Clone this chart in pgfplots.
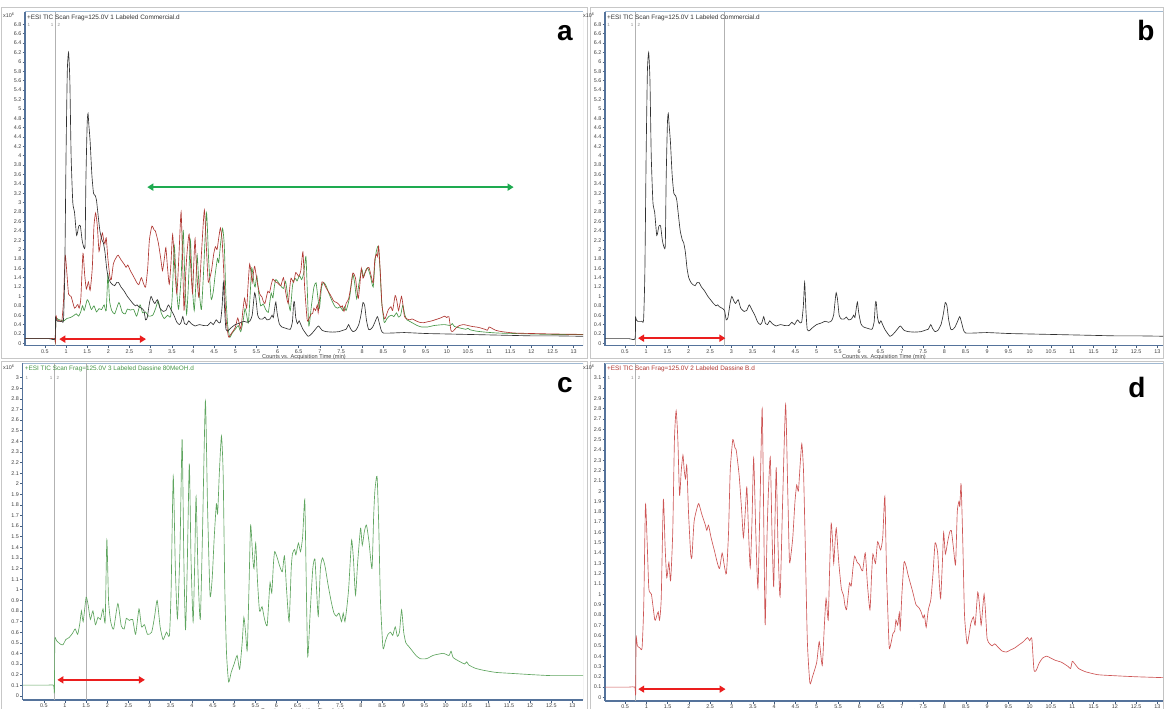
\documentclass[border=0pt]{standalone}
\usepackage{fontspec}
\setmainfont{Liberation Sans}
\usepackage{pgfplots}
\pgfplotsset{compat=1.18}
\usepackage{pgfplotstable}
\usetikzlibrary{arrows.meta}

\definecolor{cblack}{RGB}{50,50,50}
\definecolor{cgreen}{RGB}{70,150,70}
\definecolor{cred}{RGB}{175,55,50}
\definecolor{cgreenl}{RGB}{95,165,95}
\definecolor{credl}{RGB}{205,85,85}
\definecolor{arrred}{RGB}{235,30,30}
\definecolor{arrgreen}{RGB}{30,170,80}
\definecolor{axblue}{RGB}{85,115,155}
\definecolor{frblue}{RGB}{160,185,210}

\pgfplotstableread{
t v
0.03 0.10
0.2 0.10
0.4 0.10
0.6 0.10
0.74 0.10
0.75 0.55
0.77 0.50
0.80 0.47
0.90 0.47
0.94 0.50
0.97 1.5
1.00 4.0
1.03 5.8
1.06 6.2
1.09 5.6
1.12 4.0
1.16 3.0
1.20 2.8
1.25 2.3
1.30 2.5
1.34 2.5
1.38 2.2
1.42 2.05
1.45 2.1
1.47 3.5
1.50 4.7
1.52 4.9
1.54 4.65
1.57 4.3
1.61 3.6
1.65 3.2
1.69 3.15
1.72 3.05
1.75 2.8
1.80 2.4
1.85 2.2
1.88 2.15
1.92 1.95
1.96 1.6
2.00 1.4
2.05 1.3
2.10 1.25
2.15 1.23
2.20 1.3
2.24 1.3
2.30 1.2
2.37 1.12
2.45 1.0
2.52 0.92
2.58 0.85
2.64 0.8
2.68 0.82
2.72 0.78
2.78 0.75
2.84 0.70
2.88 0.50
2.92 0.55
2.97 0.85
3.01 1.0
3.06 0.9
3.10 0.85
3.16 0.93
3.22 0.75
3.30 0.68
3.36 0.70
3.42 0.82
3.48 0.72
3.55 0.60
3.62 0.45
3.68 0.40
3.72 0.45
3.76 0.57
3.80 0.42
3.85 0.40
3.90 0.48
3.96 0.42
4.05 0.37
4.15 0.40
4.25 0.38
4.35 0.38
4.42 0.45
4.48 0.40
4.55 0.50
4.60 0.45
4.65 0.45
4.69 0.80
4.72 1.30
4.75 0.70
4.78 0.30
4.83 0.27
4.90 0.33
5.00 0.40
5.10 0.43
5.20 0.47
5.28 0.45
5.35 0.48
5.40 0.60
5.44 0.95
5.46 1.08
5.49 0.95
5.53 0.60
5.58 0.52
5.65 0.52
5.70 0.56
5.75 0.50
5.82 0.52
5.87 0.60
5.90 0.55
5.94 0.80
5.96 0.88
5.99 0.65
6.04 0.42
6.10 0.35
6.20 0.32
6.30 0.30
6.35 0.45
6.38 0.85
6.40 0.88
6.43 0.55
6.47 0.42
6.51 0.48
6.55 0.40
6.60 0.30
6.66 0.22
6.72 0.15
6.78 0.18
6.85 0.25
6.92 0.33
6.97 0.37
7.05 0.28
7.15 0.25
7.30 0.24
7.45 0.25
7.55 0.28
7.62 0.30
7.68 0.40
7.72 0.32
7.78 0.25
7.85 0.28
7.92 0.40
7.97 0.60
8.02 0.87
8.06 0.80
8.10 0.50
8.15 0.30
8.20 0.30
8.25 0.35
8.30 0.45
8.36 0.57
8.40 0.45
8.45 0.28
8.50 0.22
8.70 0.22
9.00 0.23
9.5 0.21
10.0 0.20
10.5 0.19
11.0 0.18
11.5 0.17
12.0 0.16
12.5 0.16
13.25 0.15
}\blackdata

\pgfplotstableread{
t v
0.0 0.10
0.2 0.10
0.4 0.10
0.6 0.10
0.73 0.10
0.75 0.03
0.76 0.53
0.80 0.52
0.88 0.49
0.95 0.48
1.02 0.53
1.10 0.55
1.18 0.59
1.24 0.63
1.30 0.58
1.35 0.68
1.39 0.80
1.43 0.70
1.50 0.93
1.55 0.85
1.60 0.72
1.66 0.80
1.72 0.67
1.78 0.74
1.84 0.72
1.90 0.82
1.95 0.70
1.99 1.47
2.03 0.90
2.08 0.70
2.15 0.63
2.25 0.87
2.33 0.66
2.40 0.63
2.45 0.73
2.52 0.71
2.60 0.72
2.67 0.58
2.75 0.82
2.81 0.65
2.88 0.67
2.95 0.58
3.05 0.60
3.12 0.75
3.18 0.90
3.25 0.65
3.32 0.53
3.40 0.60
3.47 0.57
3.51 1.0
3.56 2.07
3.61 1.2
3.66 0.73
3.72 1.4
3.77 2.42
3.81 1.3
3.85 0.62
3.89 1.2
3.94 2.19
3.98 1.3
4.03 0.70
4.07 1.3
4.10 1.88
4.15 1.1
4.20 0.72
4.25 1.5
4.32 2.78
4.37 1.8
4.43 0.95
4.48 1.1
4.53 1.5
4.58 1.81
4.61 1.72
4.65 2.1
4.70 2.45
4.74 2.1
4.78 1.0
4.82 0.40
4.87 0.13
4.93 0.22
5.00 0.30
5.07 0.38
5.13 0.25
5.19 0.50
5.23 0.74
5.27 0.60
5.31 0.43
5.35 1.0
5.39 1.61
5.44 1.3
5.47 1.2
5.51 1.44
5.55 1.1
5.60 0.80
5.66 0.84
5.72 0.72
5.78 0.66
5.82 0.90
5.85 1.07
5.89 0.97
5.93 1.25
5.96 1.36
6.02 1.30
6.08 1.22
6.14 1.17
6.19 1.32
6.24 1.0
6.30 0.70
6.35 1.2
6.38 1.34
6.43 1.38
6.46 1.33
6.52 1.44
6.57 1.36
6.62 1.5
6.67 1.85
6.70 1.2
6.74 0.37
6.80 0.80
6.86 1.20
6.91 1.29
6.95 1.0
6.99 0.75
7.04 1.2
7.09 1.30
7.15 1.22
7.22 1.05
7.30 0.88
7.36 0.78
7.42 0.75
7.48 0.78
7.54 0.70
7.58 0.78
7.62 0.70
7.67 0.85
7.71 1.02
7.75 1.30
7.78 1.47
7.82 1.30
7.87 0.95
7.92 1.25
7.99 1.58
8.03 1.42
8.08 1.55
8.13 1.61
8.19 1.45
8.26 1.20
8.30 1.70
8.33 1.94
8.38 2.07
8.42 1.6
8.46 0.9
8.52 0.45
8.58 0.52
8.64 0.58
8.70 0.60
8.75 0.57
8.81 0.65
8.86 0.56
8.91 0.60
8.96 0.81
9.01 0.60
9.06 0.50
9.12 0.47
9.20 0.43
9.30 0.38
9.40 0.35
9.55 0.35
9.70 0.38
9.80 0.39
9.95 0.40
10.08 0.38
10.13 0.42
10.18 0.36
10.30 0.33
10.45 0.30
10.50 0.32
10.55 0.29
10.70 0.26
10.90 0.24
11.20 0.22
11.60 0.21
12.00 0.20
12.50 0.19
13.25 0.19
}\greendata

\pgfplotstableread{
t v
0.03 0.10
0.2 0.10
0.4 0.10
0.6 0.10
0.73 0.10
0.75 0.03
0.76 0.58
0.79 0.50
0.85 0.48
0.90 0.48
0.94 0.9
0.98 1.87
1.02 1.5
1.06 1.05
1.12 1.0
1.20 0.75
1.25 0.80
1.28 0.83
1.31 0.75
1.35 0.96
1.40 1.92
1.44 1.47
1.48 1.16
1.53 1.31
1.57 1.13
1.62 1.6
1.66 2.5
1.70 2.78
1.74 2.5
1.78 1.96
1.82 2.2
1.86 2.35
1.89 2.2
1.92 2.12
1.95 2.25
1.99 1.8
2.04 1.40
2.07 1.36
2.12 1.7
2.18 1.82
2.23 1.88
2.30 1.78
2.38 1.68
2.42 1.62
2.46 1.67
2.52 1.55
2.60 1.42
2.67 1.30
2.72 1.25
2.78 1.40
2.83 1.28
2.88 1.20
2.93 1.6
2.97 2.2
3.03 2.5
3.08 2.42
3.11 2.40
3.18 2.15
3.24 1.8
3.28 1.55
3.33 1.85
3.36 2.04
3.40 1.6
3.44 1.26
3.48 1.7
3.52 2.32
3.57 1.6
3.62 1.06
3.67 1.9
3.72 2.8
3.76 1.6
3.79 0.70
3.83 1.5
3.86 1.93
3.91 2.33
3.95 1.6
3.99 1.07
4.02 1.7
4.05 2.23
4.09 1.5
4.14 0.98
4.20 1.9
4.27 2.84
4.32 2.0
4.36 1.32
4.40 1.40
4.44 1.56
4.49 1.90
4.53 2.06
4.57 2.0
4.61 2.25
4.65 2.46
4.69 2.2
4.73 1.5
4.78 0.55
4.84 0.14
4.90 0.20
5.00 0.34
5.06 0.54
5.13 0.31
5.18 0.70
5.22 0.96
5.27 0.75
5.30 1.2
5.34 1.69
5.38 1.45
5.40 1.30
5.43 1.50
5.46 1.64
5.52 1.30
5.58 1.05
5.63 0.99
5.66 0.90
5.70 0.85
5.74 1.0
5.77 1.11
5.81 1.08
5.85 1.25
5.89 1.37
5.95 1.31
6.00 1.29
6.05 1.24
6.08 1.23
6.14 1.40
6.19 1.1
6.25 0.85
6.29 1.2
6.32 1.39
6.38 1.30
6.43 1.51
6.50 1.43
6.55 1.55
6.60 1.95
6.64 1.2
6.70 0.50
6.74 0.52
6.79 0.62
6.83 0.64
6.86 0.75
6.90 0.70
6.94 0.82
6.96 0.65
7.00 1.0
7.05 1.31
7.10 1.27
7.15 1.18
7.25 1.03
7.33 0.90
7.40 0.87
7.45 0.83
7.50 0.77
7.53 0.80
7.57 0.68
7.62 0.85
7.68 0.95
7.73 1.2
7.78 1.50
7.84 1.40
7.88 1.1
7.91 0.96
7.95 1.3
7.98 1.60
8.02 1.39
8.07 1.50
8.12 1.60
8.16 1.62
8.21 1.45
8.26 1.29
8.30 1.80
8.34 1.90
8.36 1.85
8.39 2.07
8.43 1.5
8.47 0.8
8.53 0.52
8.58 0.62
8.62 0.72
8.68 0.78
8.72 0.70
8.78 1.02
8.82 0.90
8.86 0.70
8.90 0.88
8.93 1.00
8.96 0.85
9.00 0.57
9.06 0.52
9.12 0.50
9.18 0.52
9.25 0.49
9.35 0.45
9.45 0.44
9.55 0.46
9.65 0.48
9.75 0.51
9.85 0.54
9.95 0.58
10.00 0.55
10.05 0.57
10.10 0.27
10.15 0.26
10.22 0.33
10.30 0.38
10.40 0.40
10.50 0.38
10.60 0.36
10.75 0.34
10.90 0.30
10.96 0.28
11.00 0.35
11.05 0.33
11.15 0.28
11.30 0.25
11.60 0.22
12.00 0.21
12.50 0.20
13.25 0.19
}\reddata

\pgfplotsset{
  chrom/.style={
    scale only axis,
    axis x line*=bottom, axis y line*=left,
    axis line style={axblue, line width=1.4pt, -},
    tick align=outside,
    major tick length=2.5pt,
    tick style={axblue!80!black, line width=0.5pt},
    xtick={0.5,1,...,13},
    ticklabel style={font=\fontsize{5.4}{5.4}\selectfont, text=black!75},
    /pgf/number format/assume math mode=true,
    yticklabel style={/pgf/number format/fixed, /pgf/number format/precision=1, inner sep=1pt},
    xticklabel style={/pgf/number format/fixed, /pgf/number format/precision=1, inner sep=1.5pt},
    xlabel={Counts vs. Acquisition Time (min)},
    xlabel style={font=\fontsize{5.6}{6}\selectfont, text=black!75, yshift=4.5pt},
  },
  curve/.style={smooth, tension=0.35, line width=0.65pt},
}
\tikzset{
  hdr/.style={font=\fontsize{6.4}{7}\selectfont, anchor=north west, inner sep=0pt},
  num/.style={font=\fontsize{4.5}{4.5}\selectfont, text=black!45, inner sep=0pt},
  dbl/.style={line width=2.4pt, {Triangle[length=6pt,width=7pt]}-{Triangle[length=6pt,width=7pt]}},
  vl/.style={black!30, line width=0.6pt},
  expo/.style={font=\fontsize{5.4}{5.4}\selectfont, text=black!75, inner sep=0pt, anchor=west},
  letter/.style={font=\fontsize{28}{28}\selectfont\bfseries, inner sep=0pt},
}
\newcommand{\topframe}{%
  \draw[frblue, line width=0.9pt] (rel axis cs:0,1) -- (rel axis cs:1,1);
  \draw[black!35, line width=0.5pt] (rel axis cs:1,1) -- (rel axis cs:1,0);
}

\begin{document}
\begin{tikzpicture}[x=1pt,y=1pt]
\path[use as bounding box] (0,0) rectangle (1164,709);
% panel frames
\draw[black!22, line width=0.6pt] (1.5,351) rectangle (587,701.5);
\draw[black!22, line width=0.6pt] (590,351) rectangle (1163.5,701.5);
\draw[black!22, line width=0.6pt] (1.5,0) rectangle (587,348);
\draw[black!22, line width=0.6pt] (590,0) rectangle (1163.5,348);

% ---------- panel a ----------
\begin{axis}[chrom, at={(25pt,363.3pt)}, anchor=south west,
  width=558pt, height=334pt,
  xmin=0.03, xmax=13.22, ymin=-0.05, ymax=7.07,
  ytick={0,0.2,...,6.8}]
\topframe
\draw[vl] (axis cs:0.75,-0.05) -- (axis cs:0.75,7.07);
\addplot[cgreen, curve] table[x=t,y=v] {\greendata};
\addplot[cred, curve] table[x=t,y=v] {\reddata};
\addplot[cblack, curve] table[x=t,y=v] {\blackdata};
\draw[arrred, dbl] (axis cs:0.84,0.09) -- (axis cs:2.89,0.09);
\draw[arrgreen, dbl] (axis cs:2.92,3.33) -- (axis cs:11.58,3.33);
\node[hdr, text=black!80] at ([xshift=2pt,yshift=-2.5pt]rel axis cs:0,1) {+ESI TIC Scan Frag=125.0V 1 Labeled Commercial.d};
\node[num] at (axis cs:0.12,6.78) {1};
\node[num] at (axis cs:0.67,6.78) {1};
\node[num] at (axis cs:0.83,6.78) {2};
\end{axis}

% ---------- panel b ----------
\begin{axis}[chrom, at={(605pt,363.3pt)}, anchor=south west,
  width=558pt, height=334pt,
  xmin=0.035, xmax=13.13, ymin=-0.05, ymax=7.07,
  ytick={0,0.2,...,6.8}]
\topframe
\draw[vl] (axis cs:0.75,-0.05) -- (axis cs:0.75,7.07);
\draw[vl] (axis cs:2.83,-0.05) -- (axis cs:2.83,7.07);
\addplot[cblack, curve] table[x=t,y=v] {\blackdata};
\draw[arrred, dbl] (axis cs:0.81,0.11) -- (axis cs:2.86,0.11);
\node[hdr, text=black!80] at ([xshift=2pt,yshift=-2.5pt]rel axis cs:0,1) {+ESI TIC Scan Frag=125.0V 1 Labeled Commercial.d};
\node[num] at (axis cs:0.12,6.78) {1};
\node[num] at (axis cs:0.67,6.78) {1};
\node[num] at (axis cs:0.83,6.78) {2};
\end{axis}

% ---------- panel c ----------
\begin{axis}[chrom, at={(22.7pt,9pt)}, anchor=south west,
  width=560.3pt, height=336.7pt,
  xmin=0, xmax=13.25, ymin=-0.04, ymax=3.136,
  ytick={0,0.1,...,3}]
\topframe
\draw[vl] (axis cs:0.75,-0.04) -- (axis cs:0.75,3.136);
\draw[vl] (axis cs:1.51,-0.04) -- (axis cs:1.51,3.136);
\addplot[cgreenl, curve] table[x=t,y=v] {\greendata};
\draw[arrred, dbl] (axis cs:0.82,0.15) -- (axis cs:2.89,0.15);
\node[hdr, text=cgreen] at ([xshift=2pt,yshift=-2.5pt]rel axis cs:0,1) {+ESI TIC Scan Frag=125.0V 3 Labeled Dassine 80MeOH.d};
\node[num] at (axis cs:0.1,3.0) {1};
\node[num] at (axis cs:0.67,3.0) {1};
\node[num] at (axis cs:0.83,3.0) {2};
\end{axis}

% ---------- panel d ----------
\begin{axis}[chrom, at={(605pt,8pt)}, anchor=south west,
  width=558pt, height=337.7pt,
  xmin=0.03, xmax=13.13, ymin=-0.035, ymax=3.24,
  ytick={0,0.1,...,3.1}]
\topframe
\draw[vl] (axis cs:0.75,-0.035) -- (axis cs:0.75,3.24);
\addplot[credl, curve] table[x=t,y=v] {\reddata};
\draw[arrred, dbl] (axis cs:0.81,0.08) -- (axis cs:2.86,0.08);
\node[hdr, text=cred] at ([xshift=2pt,yshift=-2.5pt]rel axis cs:0,1) {+ESI TIC Scan Frag=125.0V 2 Labeled Dassine B.d};
\node[num] at (axis cs:0.12,3.1) {1};
\node[num] at (axis cs:0.67,3.1) {1};
\node[num] at (axis cs:0.83,3.1) {2};
\end{axis}

% exponent labels
\node[expo] at (3,694) {x10\textsuperscript{6}};
\node[expo] at (583,694) {x10\textsuperscript{6}};
\node[expo] at (3,341.5) {x10\textsuperscript{6}};
\node[expo] at (583,341.5) {x10\textsuperscript{6}};

% panel letters
\node[letter] at (565,676) {a};
\node[letter] at (1146,678) {b};
\node[letter] at (565,324) {c};
\node[letter] at (1137,322) {d};
\end{tikzpicture}
\end{document}
